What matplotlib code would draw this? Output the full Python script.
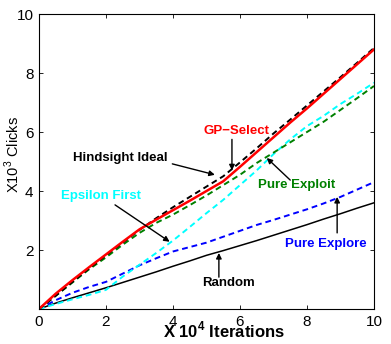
import matplotlib
matplotlib.use("Agg")
import matplotlib.pyplot as plt

plt.rcParams["font.family"] = ["Liberation Sans", "DejaVu Sans"]
plt.rcParams["mathtext.fontset"] = "custom"
plt.rcParams["mathtext.rm"] = "Liberation Sans"
plt.rcParams["mathtext.bf"] = "Liberation Sans:bold"

# iterations (x 10^4)
iterations = [0, 0.5, 1, 1.5, 2, 2.5, 3, 3.5, 4, 4.5, 5, 5.5, 6, 6.5, 7, 7.5, 8, 8.5, 9, 9.5, 10]

# clicks (x 10^3)
gp_select = [0, 0.52, 0.98, 1.42, 1.85, 2.28, 2.7, 3.03, 3.35, 3.67, 4.0, 4.33, 4.82, 5.32, 5.82, 6.32, 6.8, 7.3, 7.8, 8.3, 8.8]
hindsight = [0, 0.45, 0.92, 1.38, 1.82, 2.25, 2.68, 3.08, 3.45, 3.8, 4.15, 4.5, 4.97, 5.45, 5.95, 6.42, 6.9, 7.38, 7.86, 8.35, 8.85]
pure_exploit = [0, 0.45, 0.9, 1.35, 1.75, 2.18, 2.58, 2.92, 3.2, 3.52, 3.85, 4.2, 4.55, 4.95, 5.3, 5.65, 6.0, 6.35, 6.75, 7.15, 7.56]
epsilon_first = [0, 0.17, 0.33, 0.48, 0.65, 1.1, 1.5, 1.9, 2.32, 2.78, 3.25, 3.7, 4.2, 4.7, 5.25, 5.75, 6.2, 6.55, 6.95, 7.3, 7.67]
pure_explore = [0, 0.3, 0.55, 0.75, 0.92, 1.2, 1.48, 1.72, 1.95, 2.1, 2.25, 2.45, 2.65, 2.85, 3.02, 3.2, 3.38, 3.58, 3.8, 4.05, 4.3]
random_sel = [0, 0.2, 0.38, 0.55, 0.72, 0.9, 1.08, 1.26, 1.45, 1.63, 1.82, 1.98, 2.15, 2.32, 2.5, 2.68, 2.86, 3.05, 3.23, 3.42, 3.6]

ticks = [0, 2, 4, 6, 8, 10]

fig = plt.figure(figsize=(3.91, 3.44), dpi=100)
ax = fig.add_axes([0.0997, 0.1017, 0.8568, 0.8576])

ax.plot(iterations, random_sel, color="black", lw=1.1)
ax.plot(iterations, pure_explore, color="blue", lw=1.4, dashes=(3, 2))
ax.plot(iterations, epsilon_first, color="cyan", lw=1.4, dashes=(3, 2))
ax.plot(iterations, pure_exploit, color="green", lw=1.4, dashes=(3, 2))
ax.plot(iterations, hindsight, color="black", lw=1.4, dashes=(3, 2))
ax.plot(iterations, gp_select, color="red", lw=1.8)

ax.set_xlim(0, 10)
ax.set_ylim(0, 10)
ax.set_xticks(ticks)
ax.set_yticks(ticks)
ax.set_yticklabels(["", "2", "4", "6", "8", "10"])
ax.tick_params(direction="in", top=True, right=True, length=3, width=0.6,
               labelsize=11, pad=4)
for s in ax.spines.values():
    s.set_linewidth(0.8)

ax.set_xlabel(r"X 10$^{\mathbf{4}}$ Iterations", fontsize=12, fontweight="bold")
ax.xaxis.set_label_coords(0.552, -0.035)
ax.set_ylabel(r"X10$^3$ Clicks", fontsize=10.5)
ax.yaxis.set_label_coords(-0.05, 0.522)

arrow = dict(arrowstyle="-|>", color="black", lw=1.0, mutation_scale=8,
             shrinkA=0, shrinkB=0)
tkw = dict(fontsize=9.5, fontweight="bold", ha="center", va="center")

ax.text(5.9, 6.05, "GP\u2212Select", color="red", **tkw)
ax.annotate("", xy=(5.76, 4.7), xytext=(5.76, 5.75), arrowprops=arrow)

ax.text(2.42, 5.12, "Hindsight Ideal", color="black", **tkw)
ax.annotate("", xy=(5.25, 4.55), xytext=(3.98, 4.92), arrowprops=arrow)

ax.text(1.85, 3.83, "Epsilon First", color="cyan", **tkw)
ax.annotate("", xy=(3.9, 2.28), xytext=(2.27, 3.53), arrowprops=arrow)

ax.text(7.7, 4.2, "Pure Exploit", color="green", **tkw)
ax.annotate("", xy=(6.8, 5.12), xytext=(7.5, 4.37), arrowprops=arrow)

ax.text(8.57, 2.2, "Pure Explore", color="blue", **tkw)
ax.annotate("", xy=(8.9, 3.8), xytext=(8.9, 2.58), arrowprops=arrow)

ax.text(5.67, 0.88, "Random", color="black", **tkw)
ax.annotate("", xy=(5.37, 1.9), xytext=(5.37, 1.08), arrowprops=arrow)

fig.savefig("out.png", dpi=100)
